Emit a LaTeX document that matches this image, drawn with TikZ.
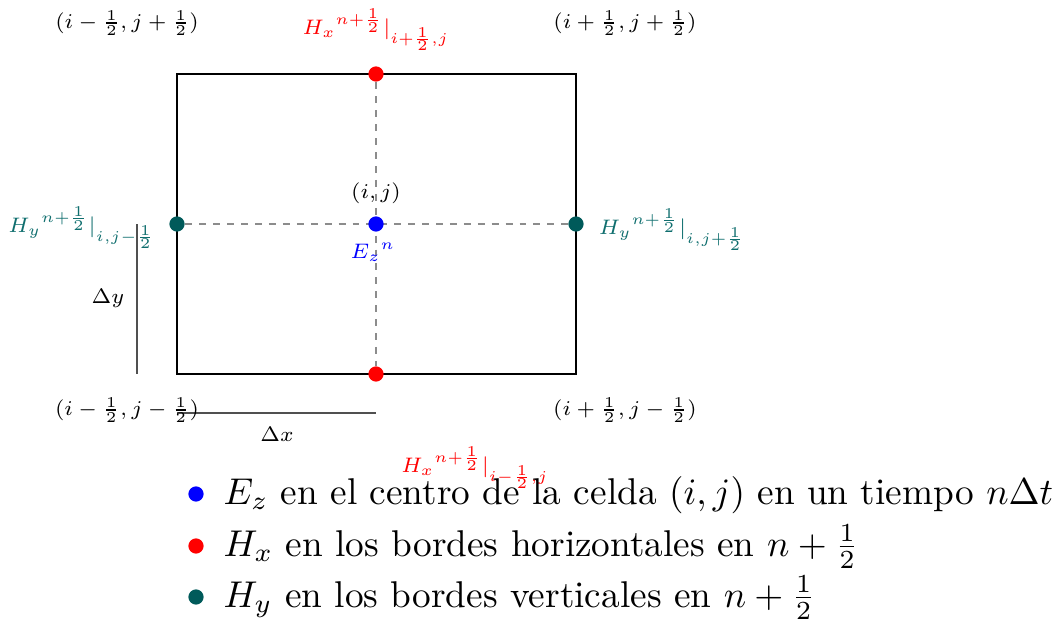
\documentclass[tikz,border=0pt]{standalone}
\usepackage{amsmath}
\definecolor{hydot}{RGB}{0,90,90}
\definecolor{hytext}{RGB}{15,110,110}
\definecolor{gridgray}{RGB}{140,140,140}
\definecolor{dimgray}{RGB}{80,80,80}
\begin{document}
\begin{tikzpicture}[x=0.2299pt,y=-0.2299pt,
  dot/.style={circle,inner sep=0pt,minimum size=3.5pt},
  lbl/.style={inner sep=0pt,font=\scriptsize,scale=0.69,transform shape},
  cell/.style={draw=black,line width=0.6pt},
  grid/.style={draw=gridgray,line width=0.25pt,dash pattern=on 1.6pt off 1.6pt},
  dim/.style={draw=dimgray,line width=0.35pt},
  legtext/.style={anchor=base west,inner sep=0pt,font=\normalsize,scale=0.857,transform shape}]
\useasboundingbox (0,0) rectangle (1062,620);
% cell corners
\coordinate (sw) at (177,374);
\coordinate (ne) at (576,74);
\draw[cell] (sw) rectangle (ne);
% sample points
\node[dot,fill=red] (top) at (376,74) {};
\node[dot,fill=red] (bot) at (376,374) {};
\node[dot,fill=hydot] (lft) at (177,224) {};
\node[dot,fill=hydot] (rgt) at (576,224) {};
\draw[grid] (top) -- (bot);
\draw[grid] (lft) -- (rgt);
\node[dot,fill=blue] (ctr) at (376,224) {};
% dimension lines
\coordinate (dy1) at (137,224);
\coordinate (dy2) at (137,374);
\draw[dim] (dy1) -- (dy2);
\node[lbl] (dylab) at (108,298) {$\Delta y$};
\coordinate (dx1) at (177,413);
\coordinate (dx2) at (376,413);
\draw[dim] (dx1) -- (dx2);
\node[lbl] (dxlab) at (277,434) {$\Delta x$};
% corner labels
\node[lbl] (cnw) at (127,23) {$(i-\frac{1}{2},j+\frac{1}{2})$};
\node[lbl] (cne) at (625,23) {$(i+\frac{1}{2},j+\frac{1}{2})$};
\node[lbl] (csw) at (127,410) {$(i-\frac{1}{2},j-\frac{1}{2})$};
\node[lbl] (cse) at (625,410) {$(i+\frac{1}{2},j-\frac{1}{2})$};
% field labels
\node[lbl,text=red] (hxt) at (376,30) {${H_x}^{n+\frac{1}{2}}|_{i+\frac{1}{2},j}$};
\node[lbl,text=red] (hxb) at (475,468) {${H_x}^{n+\frac{1}{2}}|_{i-\frac{1}{2},j}$};
\node[lbl,text=hytext] (hyl) at (82,228) {${H_y}^{n+\frac{1}{2}}|_{i,j-\frac{1}{2}}$};
\node[lbl,text=hytext] (hyr) at (672,230) {${H_y}^{n+\frac{1}{2}}|_{i,j+\frac{1}{2}}$};
\node[lbl] (ij) at (376,193) {$(i,j)$};
\node[lbl,text=blue] (ez) at (373,252) {${E_z}^{n}$};
% legend
\node[dot,fill=blue] (b1) at (196,494) {};
\node[legtext] (t1) at (223,504) {$E_z$ en el centro de la celda $(i,j)$ en un tiempo $n\Delta t$};
\node[dot,fill=red] (b2) at (196,546) {};
\node[legtext] (t2) at (223,556) {$H_x$ en los bordes horizontales en $n+\frac{1}{2}$};
\node[dot,fill=hydot] (b3) at (196,597) {};
\node[legtext] (t3) at (223,607) {$H_y$ en los bordes verticales en $n+\frac{1}{2}$};
\end{tikzpicture}
\end{document}
